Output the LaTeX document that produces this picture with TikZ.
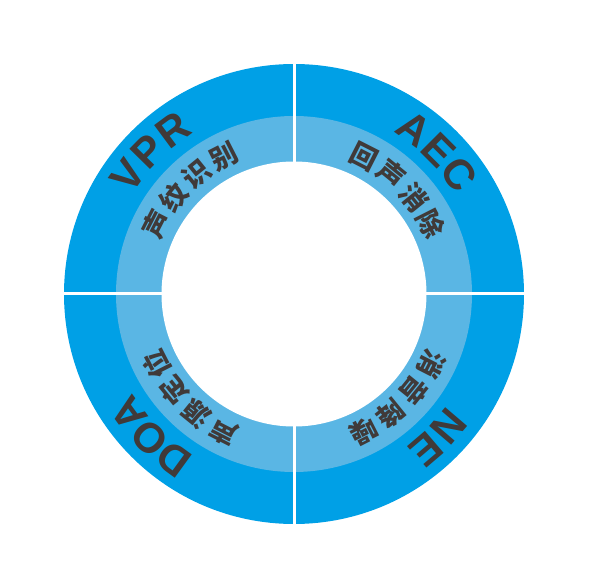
\documentclass[tikz,border=0pt]{standalone}
\usepackage{fontspec}
\setmainfont{Liberation Sans}
\newfontfamily\cjk{Noto Sans CJK SC}
\definecolor{outerblue}{RGB}{0,160,230}
\definecolor{innerblue}{RGB}{90,182,228}
\definecolor{txtgray}{RGB}{64,58,57}
\tikzset{
  latin/.style={text=txtgray,font=\fontsize{42}{42}\selectfont\bfseries,inner sep=0pt,anchor=center},
  hanzi/.style={text=txtgray,font=\cjk\fontsize{27}{27}\selectfont\bfseries,inner sep=0pt,anchor=center},
  divider/.style={draw=white,line width=3pt}
}
\newcommand{\lchar}[3]{\node[latin,rotate=#1-90] (l#3) at (#1:204) {#2};}
\newcommand{\hchar}[3]{\node[hanzi,rotate=#1-90] (h#3) at (#1:154) {#2};}
\begin{document}
\begin{tikzpicture}[x=1pt,y=1pt]
\useasboundingbox (-294,-294) rectangle (295,294);
\fill[outerblue] (0,0) circle (230);
\fill[innerblue] (0,0) circle (178);
\fill[white] (0,0) circle (132.5);
\coordinate (c) at (0,0);
\coordinate (top) at (0,232);
\coordinate (bot) at (0,-232);
\coordinate (lft) at (-232,0);
\coordinate (rgt) at (232,0);
\draw[divider] (top) -- (bot);
\draw[divider] (lft) -- (rgt);
% VPR
\lchar{144.5}{V}{1}
\lchar{135.5}{P}{2}
\lchar{126.5}{R}{3}
% AEC
\lchar{54}{A}{4}
\lchar{45}{E}{5}
\lchar{36}{C}{6}
% NE
\lchar{-40.5}{N}{7}
\lchar{-49.5}{E}{8}
% DOA
\lchar{234}{D}{9}
\lchar{225}{O}{10}
\lchar{216}{A}{11}
% 声纹识别
\hchar{153}{声}{1}
\hchar{141}{纹}{2}
\hchar{129}{识}{3}
\hchar{117}{别}{4}
% 回声消除
\hchar{63}{回}{5}
\hchar{51}{声}{6}
\hchar{39}{消}{7}
\hchar{27}{除}{8}
% 消音降噪
\hchar{-27}{消}{9}
\hchar{-39}{音}{10}
\hchar{-51}{降}{11}
\hchar{-63}{噪}{12}
% 声源定位
\hchar{243}{声}{13}
\hchar{231}{源}{14}
\hchar{219}{定}{15}
\hchar{207}{位}{16}
\end{tikzpicture}
\end{document}
